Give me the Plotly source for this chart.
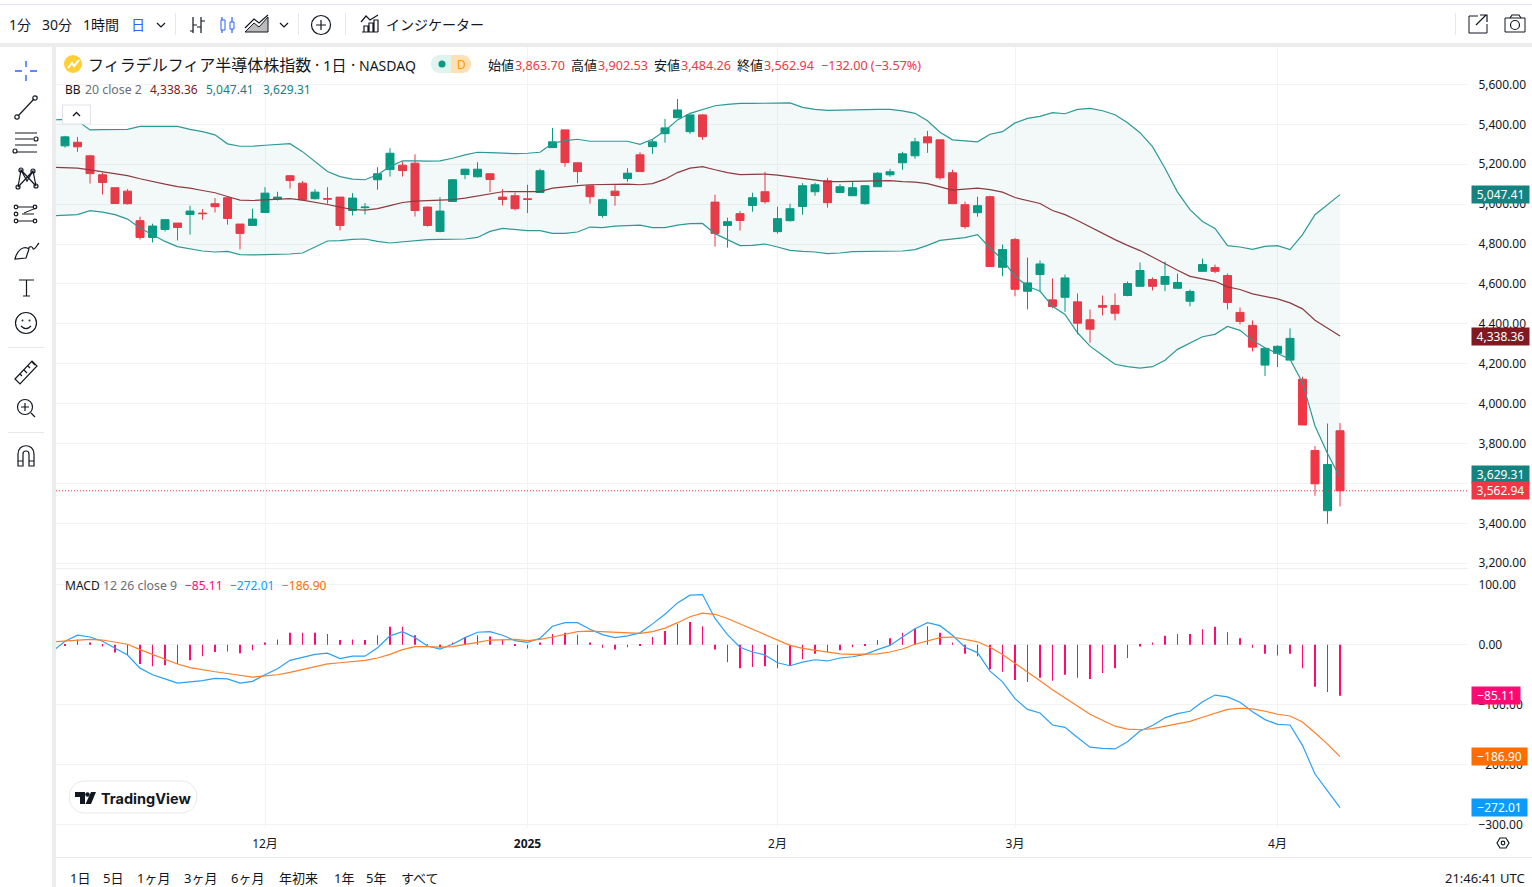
import plotly.graph_objects as go

# --- DATA ---
opens = [5292,5310,5242,5147,5082,5065,4917,4833,4873,4905,
         4948,4955,5002,5032,4900,4893,4958,5025,5142,5105,
         5027,5028,5035,4968,4982,5122,5173,5195,5205,4985,
         4863,5013,5148,5137,5152,5035,5042,5027,5058,5283,
         5372,5207,5092,4943,5065,5128,5247,5288,5353,5433,
         5363,5447,5010,4893,4952,4993,5062,4862,4917,4988,
         5062,5117,5058,5042,5002,5087,5147,5207,5242,5337,
         5322,5157,4997,4957,5037,4683,4822,4563,4647,4520,
         4533,4510,4420,4492,4492,4542,4588,4622,4598,4578,
         4513,4663,4682,4642,4457,4392,4193,4252,4218,4122,
         3765,3463,3863.70]
highs = [5342,5337,5247,5157,5085,5075,4937,4902,4925,4905,
         4992,4975,5030,5035,4900,4977,5085,5062,5145,5115,
         5075,5085,5035,5055,5005,5185,5280,5213,5250,4988,
         5035,5125,5177,5210,5155,5075,5058,5097,5177,5382,
         5372,5207,5092,5027,5100,5180,5260,5325,5427,5527,
         5447,5452,5047,4932,4965,5057,5162,4987,5002,5105,
         5107,5132,5100,5112,5095,5160,5177,5262,5332,5367,
         5322,5172,5012,5037,5042,4797,4830,4732,4717,4627,
         4647,4552,4472,4542,4552,4612,4707,4632,4712,4652,
         4572,4727,4697,4652,4482,4417,4277,4292,4377,4135,
         3787,3900,3902.53]
lows = [5283,5262,5103,5048,5002,4998,4822,4808,4863,4818,
        4847,4922,4958,4897,4773,4892,4957,5018,5078,5018,
        5023,5002,4868,4943,4948,5072,5138,5138,4938,4887,
        4858,5012,5125,5133,5060,4993,4968,4955,5057,5282,
        5187,5105,5002,4932,4992,5112,5162,5252,5308,5432,
        5352,5322,4787,4782,4867,4962,5002,4852,4912,4947,
        5042,4982,5057,5042,4997,5087,5137,5172,5227,5257,
        5122,5002,4877,4937,4685,4638,4538,4472,4563,4478,
        4460,4347,4305,4442,4417,4538,4588,4567,4563,4577,
        4487,4662,4653,4472,4397,4262,4138,4183,4217,3893,
        3538,3398,3484.26]
closes = [5337,5287,5153,5108,5003,5002,4833,4890,4922,4883,
          4965,4952,4987,4928,4853,4925,5055,5035,5118,5022,
          5060,5025,4893,5030,4985,5152,5255,5168,4968,4893,
          4965,5122,5175,5175,5123,5023,4977,5023,5167,5312,
          5208,5163,5037,5022,5043,5155,5163,5312,5382,5472,
          5447,5338,4853,4912,4918,5032,5012,4927,4977,5092,
          5097,5007,5087,5082,5092,5155,5162,5252,5312,5307,
          5132,5002,4887,4992,4687,4772,4573,4605,4700,4487,
          4630,4403,4373,4483,4453,4602,4667,4588,4637,4607,
          4562,4697,4663,4507,4412,4283,4277,4287,4327,3893,
          3598,3694.94,3562.94]

# line series start one bar earlier, off the left edge of the pane
bb_upper = [5422,
            5425,5418,5372,5373,5373,5375,5390,5390,5390,5390,
            5375,5363,5347,5302,5290,5290,5295,5298,5303,5263,
            5213,5163,5138,5125,5122,5147,5188,5217,5217,5215,
            5217,5230,5247,5260,5258,5255,5253,5255,5260,5305,
            5318,5325,5315,5315,5315,5315,5300,5325,5368,5422,
            5455,5473,5493,5500,5505,5505,5505,5508,5507,5485,
            5475,5470,5472,5473,5475,5475,5475,5467,5455,5418,
            5360,5322,5317,5312,5350,5363,5407,5430,5440,5458,
            5453,5475,5480,5468,5448,5408,5358,5288,5180,5060,
            4972,4913,4878,4792,4785,4773,4788,4792,4772,4847,
            4947,4997,5047.41]
bb_basis = [5185,
            5183,5180,5172,5163,5155,5143,5127,5112,5100,5088,
            5080,5068,5057,5038,5020,5018,5020,5025,5027,5020,
            5010,4998,4985,4973,4970,4977,4992,5008,5015,5017,
            5017,5022,5030,5040,5052,5062,5063,5062,5063,5080,
            5088,5093,5097,5098,5100,5100,5097,5103,5125,5158,
            5180,5188,5172,5158,5148,5148,5150,5145,5137,5127,
            5118,5113,5113,5115,5117,5118,5118,5113,5110,5103,
            5088,5070,5075,5080,5073,5060,5033,5018,5003,4968,
            4947,4918,4885,4855,4822,4793,4767,4735,4700,4668,
            4638,4625,4613,4585,4572,4550,4538,4525,4505,4475,
            4418,4380,4338.36]
bb_lower = [4942,
            4943,4947,4967,4960,4947,4925,4880,4847,4813,4787,
            4775,4765,4760,4763,4747,4745,4747,4748,4750,4755,
            4783,4815,4817,4823,4825,4813,4805,4810,4818,4822,
            4823,4823,4825,4833,4863,4878,4872,4867,4867,4853,
            4853,4860,4885,4882,4890,4892,4895,4882,4882,4895,
            4902,4903,4852,4822,4792,4793,4800,4785,4768,4763,
            4760,4752,4755,4762,4763,4763,4763,4765,4772,4793,
            4818,4825,4832,4847,4780,4722,4638,4588,4563,4488,
            4447,4355,4288,4242,4197,4185,4178,4185,4217,4272,
            4305,4335,4347,4387,4367,4317,4280,4250,4222,4105,
            3888,3750,3629.31]

macd_line = [-11,
             6,16,13,6,-6,-17,-39,-50,-57,-64,
             -62,-60,-56,-57,-64,-61,-50,-40,-26,-21,
             -16,-14,-23,-19,-19,-5,15,22,12,-2,
             -7,1,12,21,22,16,7,4,11,31,
             37,37,26,17,12,15,20,35,51,70,
             83,84,44,17,-4,-12,-17,-30,-35,-29,
             -25,-27,-22,-20,-16,-8,-1,13,27,37,
             32,16,-4,-13,-44,-62,-90,-108,-114,-134,
             -138,-155,-171,-173,-174,-162,-144,-135,-122,-115,
             -111,-95,-84,-87,-96,-112,-125,-133,-134,-168,
             -216,-244,-272.01]
signal_line = [5,
               6,8,9,8,5,1,-8,-16,-24,-32,
               -38,-42,-45,-48,-51,-54,-52,-50,-46,-41,
               -36,-32,-30,-28,-26,-22,-16,-8,-3,-3,
               -4,-3,0,4,8,9,9,7,9,13,
               18,22,23,22,20,19,19,22,28,37,
               47,53,51,44,35,26,17,8,-1,-6,
               -9,-13,-15,-16,-16,-15,-12,-7,1,7,
               12,13,9,5,-4,-16,-31,-45,-60,-75,
               -89,-102,-116,-126,-136,-141,-142,-140,-136,-132,
               -128,-121,-114,-108,-106,-107,-111,-116,-119,-129,
               -147,-166,-186.90]
macd_hist = [-2,9,4,-3,-13,-17,-32,-36,-34,-32,
             -26,-19,-12,-11,-14,-9,4,9,20,20,
             20,18,8,9,8,16,30,30,16,1,
             -4,4,13,16,14,9,-2,-6,4,18,
             20,17,4,-5,-8,-4,-1,13,23,35,
             38,31,-8,-29,-39,-37,-36,-39,-35,-24,
             -15,-12,-9,-4,-1,8,11,20,27,31,
             20,4,-15,-19,-41,-45,-59,-62,-55,-60,
             -50,-55,-57,-47,-39,-22,-3,4,15,18,
             18,26,30,21,11,-5,-15,-18,-15,-39,
             -70,-79,-85.11]

price_ticks = [3200,3400,3600,3800,4000,4200,4400,4600,4800,5000,5200,5400,5600]
macd_ticks = [100,0,-100,-200,-300]
month_pos = [16,37,57,76,97]
month_labels = ["12月","<b>2025</b>","2月","3月","4月"]
range_labels = [("1日",70),("5日",103),("1ヶ月",137),("3ヶ月",184),("6ヶ月",231),
                ("年初来",279),("1年",334),("5年",366),("すべて",401)]

bar_x = list(range(len(closes)))
line_x = list(range(-1, len(closes)))

# --- COLOURS ---
GREEN = "#089981"
RED = "#f23645"
TEAL = "#2b9a96"
TEAL_TAG = "#14837f"
MAROON = "#8c3b3f"
MAROON_TAG = "#801922"
PINK = "#ff0a74"
BLUE = "#2ba0f5"
BLUE_TAG = "#0b9bff"
ORANGE = "#ff7f2a"
ORANGE_TAG = "#ff6d00"
GRID = "#f2f3f5"
STRIP = "#ececec"
DARK = "#131722"
MUTED = "#6a6d78"
FONT = "Noto Sans, Noto Sans CJK JP, sans-serif"
W, H = 1532, 887


def fy(py):
    return 1 - py / H


fig = go.Figure()

# --- PRICE PANE ---
fig.add_trace(go.Scatter(x=line_x, y=bb_upper, mode="lines", line=dict(color=TEAL, width=1.2), hoverinfo="skip"))
fig.add_trace(go.Scatter(x=line_x, y=bb_lower, mode="lines", line=dict(color=TEAL, width=1.2), hoverinfo="skip",
                         fill="tonexty", fillcolor="rgba(43,154,150,0.06)"))
fig.add_trace(go.Scatter(x=line_x, y=bb_basis, mode="lines", line=dict(color=MAROON, width=1.2), hoverinfo="skip"))
fig.add_trace(go.Candlestick(x=bar_x, open=opens, high=highs, low=lows, close=closes, whiskerwidth=0,
                             increasing=dict(line=dict(color=GREEN, width=1), fillcolor=GREEN),
                             decreasing=dict(line=dict(color=RED, width=1), fillcolor=RED)))

# --- MACD PANE ---
fig.add_trace(go.Bar(x=bar_x, y=macd_hist, width=0.08, marker=dict(color=PINK, line=dict(width=0)),
                     xaxis="x2", yaxis="y2"))
fig.add_trace(go.Scatter(x=line_x, y=macd_line, mode="lines", line=dict(color=BLUE, width=1.2), xaxis="x2", yaxis="y2"))
fig.add_trace(go.Scatter(x=line_x, y=signal_line, mode="lines", line=dict(color=ORANGE, width=1.2), xaxis="x2", yaxis="y2"))

x_range = [(56 - 65) / 12.5, (1468 - 65) / 12.5]
x_dom = [56 / W, 1468 / W]

shapes = []
annots = []


def txt(s, x, y, color=DARK, size=13, anchor="left", font=FONT, **kw):
    # annotations carry about 2px of padding round the text
    nudge = {"left": -2, "right": 2, "center": 0}[anchor]
    annots.append(dict(text=s, x=x + nudge, y=y, xref="x3", yref="y3", xanchor=anchor, yanchor="middle", showarrow=False,
                       font=dict(family=font, size=size, color=color), **kw))


def path(d, color=DARK, width=1.2, fill=None):
    shapes.append(dict(type="path", path=d, xref="x3", yref="y3", layer="above",
                       line=dict(color=color, width=width), fillcolor=fill or "rgba(0,0,0,0)"))


def rect(x0, y0, x1, y1, fill, line=None, layer="below"):
    shapes.append(dict(type="rect", x0=x0, y0=y0, x1=x1, y1=y1, xref="x3", yref="y3", layer=layer, fillcolor=fill,
                       line=dict(color=line or fill, width=1 if line else 0)))


def circ(cx, cy, r, color=DARK, width=1.2, fill=None):
    shapes.append(dict(type="circle", x0=cx - r, y0=cy - r, x1=cx + r, y1=cy + r, xref="x3", yref="y3", layer="above",
                       line=dict(color=color, width=width), fillcolor=fill or "rgba(0,0,0,0)"))


def tag(value, color, yref, width, yshift=0):
    s = f"{value:,.2f}".replace("-", "−")
    annots.append(dict(text=s, x=1471, y=value, xref="x3", yref=yref, xanchor="left", yanchor="middle", showarrow=False,
                       bgcolor=color, width=width, height=17, borderpad=0, align="center", yshift=yshift,
                       font=dict(family=FONT, size=12, color="white")))


# --- PAGE CHROME ---
rect(0, 4, W, 5, "#e0e3eb")
rect(0, 43, W, 47, STRIP)
rect(52, 47, 56, H, STRIP)
rect(56, 568, 1468, 569, "#eceef2")
rect(56, 857, W, 858, "#e6e8ec")
for dx in (175, 298, 345, 1455):
    rect(dx, 13, dx + 1, 35, "#e6e8ec")
for dy in (347, 432):
    rect(8, dy, 44, dy + 1, "#e6e8ec")

# last close dotted line
shapes.append(dict(type="line", x0=56, x1=1468, y0=closes[-1], y1=closes[-1], xref="x3", yref="y", layer="above",
                   line=dict(color=RED, width=1, dash="1px,2px")))

# --- TOP TOOLBAR ---
txt("1分", 9, 24, size=14)
txt("30分", 42, 24, size=14)
txt("1時間", 83, 24, size=14)
txt("日", 131, 24, color="#2962ff", size=14)
path("M157 23 L161 27 L165 23")
path("M193 33 V17 M193 31 H190 M201 33 V17 M201 21 H205 M193 25 H197 M201 27 H197")
path("M222 17 V33 M232 17 V33", color="#2962ff")
rect(221, 20, 225, 30, "white", "#2962ff", layer="above")
rect(230, 22, 234, 29, "white", "#2962ff", layer="above")
path("M245 32 L254 23 L259 27 L268 17 V32 Z", fill="#bbbbbb", width=1)
path("M245 28 L254 19 L259 23 L268 15")
path("M280 23 L284 27 L288 23")
circ(321, 25, 9.5)
path("M316 25 H326 M321 20 V30")
path("M362 32 H378 M364 32 V26 H368 V32 M369 32 V23 H373 V32 M374 32 V20 H378 V32 M361 22 L366 16 L370 20 L378 15")
txt("インジケーター", 386, 24, size=14)
rect(1469, 16, 1487, 33, "white", DARK, layer="above")
rect(1478, 13, 1489, 24, "white", layer="above")
path("M1476 25 L1486 15 M1480 15 H1487 V22", width=1.2)
rect(1505, 18, 1525, 32, "white", DARK, layer="above")
path("M1510 18 L1512 15 H1519 L1521 18")
circ(1515, 25, 4.5)

# --- LEFT TOOLBAR ---
path("M26 61 V67 M26 75 V81 M15 71 H22 M30 71 H37", color="#2962ff", width=1.4)
path("M18 116 L34 99")
circ(17, 117, 2.2)
circ(35, 98, 2.2)
path("M15 133 H37 M15 139 H33 M15 145 H37 M17 152 H37")
circ(36, 139, 2)
circ(15, 151, 2)
path("M18 187 L21 170 L27 181 L33 171 L36 186 M18 187 L33 171 M21 170 L36 186")
for cx, cy in ((18, 187), (21, 170), (33, 171), (36, 186)):
    circ(cx, cy, 2)
path("M18 207 H34 M18 221 H34 M22 214 H34 M24 213 L36 208", width=1)
for cx, cy in ((16, 207), (35, 207), (16, 214), (16, 221), (35, 221)):
    circ(cx, cy, 1.8)
path("M15 259 C17 250 24 245 29 249 L26 258 Z M28 249 C30 245 33 247 33 249 C35 250 37 245 39 243")
path("M19 280 H34 M26.5 280 V296 M23 296 H30")
circ(26, 323, 10.5)
circ(22.5, 320.5, 0.4)
circ(29.5, 320.5, 0.4)
path("M21 326 Q26 331 31 326")
path("M15 379 L32 361 L37 366 L20 384 Z M20 374 L22 376 M24 370 L27 373 M28 366 L30 368 M32 362 L35 365")
circ(25, 407, 7.5)
path("M21 407 H29 M25 403 V411 M31 413 L35 417")
path("M18 466 V454 C18 443 34 443 34 454 V466 H29 V454 C29 450 23 450 23 454 V466 Z M18 461 H23 M29 461 H34")

# --- HEADER TEXT ---
circ(73, 64, 9, color="#ffcf33", width=0, fill="#ffcf33")
path("M68 68 L72 63 L74 66 L79 60", color="white", width=2)
txt("フィラデルフィア半導体株指数", 88, 65, size=16)
txt("·", 315, 65, size=16)
txt("1日", 323, 65, size=15)
txt("·", 351, 65, size=16)
txt("NASDAQ", 359, 65, size=14)
shapes.append(dict(type="path", xref="x3", yref="y3", layer="above", line=dict(width=0), fillcolor="#dff3ef",
                   path="M451 55 H440 C428 55 428 73 440 73 H451 Z"))
shapes.append(dict(type="path", xref="x3", yref="y3", layer="above", line=dict(width=0), fillcolor="#ffe0b2",
                   path="M451 55 H462 C474 55 474 73 462 73 H451 Z"))
circ(442, 64, 3.5, color=GREEN, width=0, fill=GREEN)
txt("D", 461, 64, color="#ff9800", size=12, anchor="center")

ohlc_names = ["始値", "高値", "安値", "終値"]
ohlc_vals = [opens[-1], highs[-1], lows[-1], closes[-1]]
for k, (name, val) in enumerate(zip(ohlc_names, ohlc_vals)):
    x0 = [488, 571, 654, 737][k]
    txt(name, x0, 65, size=13)
    txt(f"{val:,.2f}", x0 + 27, 65, color=RED, size=12.6)
txt("−132.00 (−3.57%)", 821, 65, color=RED, size=12.6)

txt("BB", 65, 89.5, size=12)
txt("20 close 2", 85, 89.5, color=MUTED, size=12.3)
txt(f"{bb_basis[-1]:,.2f}", 150, 89.5, color=MAROON_TAG, size=12)
txt(f"{bb_upper[-1]:,.2f}", 206, 89.5, color=TEAL_TAG, size=12)
txt(f"{bb_lower[-1]:,.2f}", 263, 89.5, color=TEAL_TAG, size=12)
rect(62.5, 105, 90.5, 124, "white", "#e0e3eb", layer="above")
path("M73 116 L76.5 112.5 L80 116", width=1.3)

txt("MACD", 65, 585.5, size=12)
txt("12 26 close 9", 103, 585.5, color=MUTED, size=12.3)
txt(f"{macd_hist[-1]:.2f}".replace("-", "−"), 185, 585.5, color=PINK, size=12)
txt(f"{macd_line[-1]:.2f}".replace("-", "−"), 230, 585.5, color=BLUE_TAG, size=12)
txt(f"{signal_line[-1]:.2f}".replace("-", "−"), 282, 585.5, color=ORANGE_TAG, size=12)

# --- TRADINGVIEW BADGE ---
shapes.append(dict(type="path", xref="x3", yref="y3", layer="above", line=dict(color="#e8e9ec", width=1), fillcolor="white",
                   path="M85 781 H181 C202 781 202 813 181 813 H85 C64 813 64 781 85 781 Z"))
path("M75 792 H85 V804 H80 V797 H75 Z", color=DARK, width=0, fill=DARK)
path("M91 792 H96 L91 804 H85.5 Z", color=DARK, width=0, fill=DARK)
circ(87.5, 794.5, 2.2, color=DARK, width=0, fill=DARK)
txt("<b>TradingView</b>", 101, 798, size=14.5, font="Inter, Noto Sans, sans-serif")

# --- BOTTOM BAR ---
for label, x0 in range_labels:
    txt(label, x0, 878, size=13)
txt("21:46:41 UTC", 1525, 878, size=13, anchor="right")
path("M1497 843 L1500 838 H1506 L1509 843 L1506 848 H1500 Z")
circ(1503, 843, 1.8)

# --- VALUE TAGS ---
tag(bb_upper[-1], TEAL_TAG, "y", 57)
tag(bb_basis[-1], MAROON_TAG, "y", 57)
tag(bb_lower[-1], TEAL_TAG, "y", 57, yshift=3.5)  # pushed up clear of the close tag, as in the reference
tag(closes[-1], RED, "y", 57)
tag(macd_hist[-1], PINK, "y2", 48)
tag(signal_line[-1], ORANGE_TAG, "y2", 55)
tag(macd_line[-1], BLUE_TAG, "y2", 55)

# --- LAYOUT ---
tick_font = dict(family=FONT, size=12, color=DARK)
fig.update_layout(
    width=W, height=H, margin=dict(l=0, r=0, t=0, b=0, autoexpand=False), showlegend=False, hovermode=False,
    paper_bgcolor="white", plot_bgcolor="rgba(0,0,0,0)", boxgap=0.2, boxgroupgap=0.2,
    xaxis=dict(domain=x_dom, range=x_range, anchor="y", rangeslider=dict(visible=False), tickvals=month_pos,
               showticklabels=False, ticks="", showgrid=True, gridcolor=GRID, zeroline=False, showline=False),
    yaxis=dict(domain=[fy(568), fy(47)], range=[4800 - (568 - 244) / 0.1995, 4800 + (244 - 47) / 0.1995], anchor="x",
               side="right", tickvals=price_ticks, tickformat=",.2f", tickfont=tick_font, ticks="outside", ticklen=7,
               tickcolor="rgba(0,0,0,0)", showgrid=True, gridcolor=GRID, zeroline=False, showline=False),
    xaxis2=dict(domain=x_dom, range=x_range, anchor="y2", tickvals=month_pos, ticktext=month_labels, tickfont=tick_font,
                ticks="outside", ticklen=5, tickcolor="rgba(0,0,0,0)", showgrid=True, gridcolor=GRID, zeroline=False,
                showline=False),
    yaxis2=dict(domain=[fy(828), fy(569)], range=[-300 - (828 - 824.3) / 0.599, 100 + (585 - 569) / 0.599], anchor="x2",
                side="right", tickvals=macd_ticks, tickformat=",.2f", tickfont=tick_font, ticks="outside", ticklen=7,
                tickcolor="rgba(0,0,0,0)", showgrid=True, gridcolor=GRID, zeroline=False, showline=False),
    xaxis3=dict(domain=[0, 1], range=[0, W], anchor="y3", visible=False, fixedrange=True),
    yaxis3=dict(domain=[0, 1], range=[H, 0], anchor="x3", visible=False, fixedrange=True),
    shapes=shapes, annotations=annots,
)

fig.write_html("out.html", config=dict(displayModeBar=False),
               post_script="document.documentElement.style.cssText='margin:0;height:887px;overflow:hidden';"
                           "document.body.style.cssText='margin:0;height:887px;overflow:hidden';")
